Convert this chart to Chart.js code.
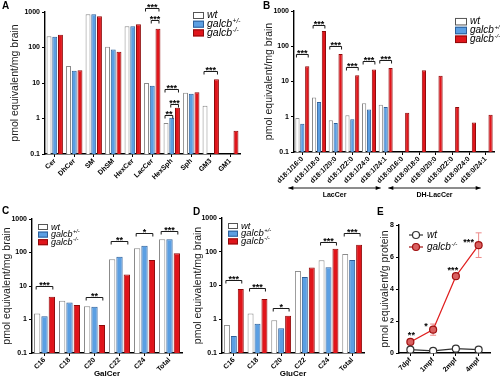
<!DOCTYPE html>
<html>
<head>
<meta charset="utf-8">
<script src="https://cdn.jsdelivr.net/npm/chart.js@4"></script>
<style>
  body { margin: 0; background: #fff; }
  #wrap { position: relative; width: 500px; height: 379px; overflow: hidden; }
  canvas { position: absolute; }
  .tag { position: absolute; font: bold 10px 'Liberation Sans', Arial, sans-serif; }
</style>
</head>
<body>
<div id="wrap">
  <canvas id="cA" width="245" height="190" style="left:0;top:0"></canvas>
  <canvas id="cB" width="255" height="200" style="left:245px;top:0"></canvas>
  <canvas id="cC" width="190" height="184" style="left:0;top:195px"></canvas>
  <canvas id="cD" width="180" height="184" style="left:190px;top:195px"></canvas>
  <canvas id="cE" width="130" height="184" style="left:370px;top:195px"></canvas>
  <div class="tag" style="left:2px;top:0">A</div>
  <div class="tag" style="left:263px;top:0">B</div>
  <div class="tag" style="left:2px;top:205px">C</div>
  <div class="tag" style="left:193px;top:206px">D</div>
  <div class="tag" style="left:377px;top:206px">E</div>
</div>
<script>
// panel A - sphingolipids
const aLabels = ['Cer', 'DhCer', 'SM', 'DhSM', 'HexCer', 'LacCer', 'HexSph', 'Sph', 'GM3', 'GM1'];
const aWt  = [209, 30, 860, 105, 400, 10, 0.75, 5.3, 2.3, null];
const aHet = [200, 22, 860, 88, 400, 8.3, 1.05, 5.0, null, null];
const aKo  = [230, 23, 760, 76, 450, 340, 2.0, 5.5, 12.7, 0.45];
const aSig = [[5, 0, 2, 1330, '***'], [5, 1, 2, 585, '***'], [6, 0, 2, 6.7, '***'],
              [6, 1, 2, 2.6, '***'], [6, 0, 1, 1.24, '**'], [8, 0, 2, 22, '***']];

// panel B - LacCer species
const bLabels = ['d18:1/16:0', 'd18:1/18:0', 'd18:1/20:0', 'd18:1/22:0', 'd18:1/24:0', 'd18:1/24:1',
                 'd18:0/16:0', 'd18:0/18:0', 'd18:0/20:0', 'd18:0/22:0', 'd18:0/24:0', 'd18:0/24:1'];
const bWt  = [0.92, 3.5, 0.8, 1.1, 2.4, 2.2, null, null, null, null, null, null];
const bHet = [0.63, 2.6, 0.67, 0.85, 1.6, 1.9, null, null, null, null, null, null];
const bKo  = [27, 270, 60, 15, 22, 24, 1.3, 21, 14.6, 1.9, 0.69, 1.14];
const bSig = [[0, 0, 2, 60, '***'], [1, 0, 2, 400, '***'], [2, 0, 2, 100, '***'],
              [3, 0, 2, 26, '***'], [4, 0, 2, 38, '***'], [5, 0, 2, 41, '***']];

// panel C - GalCer
const cLabels = ['C16', 'C18', 'C20', 'C22', 'C24', 'Total'];
const cWt  = [1.5, 3.6, 2.5, 63, 135, 250];
const cHet = [1.26, 3.2, 2.4, 75, 158, 250];
const cKo  = [4.8, 2.7, 0.68, 22, 60, 95];
const cSig = [[0, 0, 2, 10, '***'], [2, 0, 2, 4.8, '**'], [3, 0, 2, 213, '**'],
              [4, 0, 2, 380, '*'], [5, 0, 2, 450, '***']];

// panel D - GluCer
const dLabels = ['C16', 'C18', 'C20', 'C22', 'C24', 'Total'];
const dWt  = [0.68, 1.48, 0.93, 27, 56, 86];
const dHet = [0.32, 0.74, 0.54, 18, 35, 57];
const dKo  = [7.9, 4.0, 1.26, 34, 123, 160];
const dSig = [[0, 0, 2, 14.8, '***'], [1, 0, 2, 8.5, '***'], [2, 0, 2, 2.2, '*'],
              [4, 0, 2, 200, '***'], [5, 0, 2, 370, '***']];

// panel E - time course
const eLabels = ['7dpf', '1mpf', '2mpf', '4mpf'];
const eWt  = [0.21, 0.13, 0.27, 0.21];
const eKo  = [0.69, 1.46, 4.8, 6.74];
const eKoErr = [0.1, 0.35, 0.1, 0.77];
const eStars = ['**', '*', '***', '***'];

const FONT = "'Liberation Sans', Arial, sans-serif";
Chart.defaults.font.family = FONT;
Chart.defaults.color = '#000';

const WT = {fill: '#ffffff', stroke: '#8a8a8a'};
const HET = {fill: '#5b9fe3', stroke: '#2d5f99'};
const KO = {fill: '#e0151b', stroke: '#8f0a0a'};

const sigPlugin = {
  id: 'sig',
  afterDatasetsDraw(chart, args, o) {
    if (!o.items) return;
    const ctx = chart.ctx, ys = chart.scales.y;
    ctx.save();
    ctx.strokeStyle = '#000';
    ctx.lineWidth = 0.9;
    ctx.fillStyle = '#000';
    ctx.font = 'bold 9px ' + FONT;
    ctx.textAlign = 'center';
    ctx.textBaseline = 'alphabetic';
    o.items.forEach(([cat, a, b, v, txt]) => {
      const xa = chart.getDatasetMeta(a).data[cat].x - 1;
      const xb = chart.getDatasetMeta(b).data[cat].x + 1;
      const py = Math.round(ys.getPixelForValue(v)) + 0.5;
      ctx.beginPath();
      ctx.moveTo(xa, py + 3); ctx.lineTo(xa, py); ctx.lineTo(xb, py); ctx.lineTo(xb, py + 3);
      ctx.stroke();
      ctx.fillText(txt, (xa + xb) / 2, py + 1.5);
    });
    ctx.restore();
  }
};

const keyPlugin = {
  id: 'key',
  afterDraw(chart, args, o) {
    if (!o.items) return;
    const ctx = chart.ctx;
    ctx.save();
    o.items.forEach((it, i) => {
      const y = o.y + i * o.dy;
      let tx;
      if (o.marker === 'circle') {
        ctx.strokeStyle = it.stroke; ctx.lineWidth = 1.2;
        ctx.beginPath(); ctx.moveTo(o.x - 7, y); ctx.lineTo(o.x + 7, y); ctx.stroke();
        ctx.beginPath(); ctx.arc(o.x, y, 3.5, 0, Math.PI * 2);
        ctx.fillStyle = it.fill; ctx.fill(); ctx.stroke();
        tx = o.x + 11;
      } else {
        ctx.fillStyle = it.fill;
        ctx.fillRect(o.x, y - o.h / 2, o.w, o.h);
        ctx.strokeStyle = it.stroke; ctx.lineWidth = 1;
        ctx.strokeRect(o.x + 0.5, y - o.h / 2 + 0.5, o.w - 1, o.h - 1);
        tx = o.x + o.w + 3;
      }
      ctx.fillStyle = '#000';
      ctx.textAlign = 'left';
      ctx.textBaseline = 'middle';
      ctx.font = 'italic ' + o.size + 'px ' + FONT;
      ctx.fillText(it.label, tx, y);
      if (it.sup) {
        const w = ctx.measureText(it.label).width;
        ctx.font = 'italic ' + (o.size * 0.62).toFixed(1) + 'px ' + FONT;
        ctx.fillText(it.sup, tx + w + 0.5, y - o.size * 0.3);
      }
    });
    ctx.restore();
  }
};

// arrows under panel B x labels
const groupPlugin = {
  id: 'groups',
  afterDraw(chart, args, o) {
    if (!o.items) return;
    const ctx = chart.ctx, xs = chart.scales.x;
    ctx.save();
    ctx.strokeStyle = '#000'; ctx.fillStyle = '#000'; ctx.lineWidth = 0.9;
    o.items.forEach(([from, to, name]) => {
      const x1 = xs.getPixelForValue(from) - 14, x2 = xs.getPixelForValue(to) - 5;
      const y = o.y;
      ctx.beginPath(); ctx.moveTo(x1, y); ctx.lineTo(x2, y); ctx.stroke();
      ctx.beginPath(); ctx.moveTo(x1, y); ctx.lineTo(x1 + 5, y - 2); ctx.lineTo(x1 + 5, y + 2); ctx.fill();
      ctx.beginPath(); ctx.moveTo(x2, y); ctx.lineTo(x2 - 5, y - 2); ctx.lineTo(x2 - 5, y + 2); ctx.fill();
      ctx.font = 'bold 7px ' + FONT;
      ctx.textAlign = 'center'; ctx.textBaseline = 'middle';
      ctx.fillText(name, (x1 + x2) / 2, y + 7);
    });
    ctx.restore();
  }
};

const errPlugin = {
  id: 'errs',
  beforeDatasetsDraw(chart, args, o) {
    if (!o.err) return;
    const ctx = chart.ctx, ys = chart.scales.y;
    const meta = chart.getDatasetMeta(o.ds);
    const vals = chart.data.datasets[o.ds].data;
    ctx.save();
    ctx.strokeStyle = '#ec8a8a'; ctx.lineWidth = 1;
    o.err.forEach((e, i) => {
      const x = meta.data[i].x;
      const y1 = ys.getPixelForValue(vals[i] - e), y2 = ys.getPixelForValue(vals[i] + e);
      ctx.beginPath();
      ctx.moveTo(x, y1); ctx.lineTo(x, y2);
      ctx.moveTo(x - 3, y1); ctx.lineTo(x + 3, y1);
      ctx.moveTo(x - 3, y2); ctx.lineTo(x + 3, y2);
      ctx.stroke();
    });
    ctx.restore();
  }
};

const starPlugin = {
  id: 'stars',
  afterDatasetsDraw(chart, args, o) {
    if (!o.items) return;
    const ctx = chart.ctx;
    const meta = chart.getDatasetMeta(o.ds);
    ctx.save();
    ctx.fillStyle = '#000';
    ctx.font = 'bold 9px ' + FONT;
    ctx.textAlign = 'center'; ctx.textBaseline = 'alphabetic';
    o.items.forEach((txt, i) => {
      const p = meta.data[i];
      const off = o.offsets[i];
      ctx.fillText(txt, p.x + off[0], p.y + off[1]);
    });
    ctx.restore();
  }
};

Chart.register(sigPlugin, keyPlugin, groupPlugin, errPlugin, starPlugin);

function legendItems(withHet) {
  const items = [{label: 'wt', fill: WT.fill, stroke: '#555'}];
  if (withHet) items.push({label: 'galcb', sup: '+/-', fill: HET.fill, stroke: HET.stroke});
  items.push({label: 'galcb', sup: '-/-', fill: KO.fill, stroke: KO.stroke});
  return items;
}

function axisX(h, title) {
  return {
    type: 'category',
    ticks: {font: {size: 7, weight: 'bold'}, color: '#000', minRotation: 45, maxRotation: 45, autoSkip: false, padding: 0},
    grid: {display: true, drawOnChartArea: false, offset: false, tickLength: 3, color: '#000', lineWidth: 1},
    border: {color: '#000', width: 1.4},
    title: title ? {display: true, text: title, font: {size: 8, weight: 'bold'}, color: '#000', padding: 0} : {display: false},
    afterFit(s) { s.height = h; }
  };
}

function axisLogY(w, titlePad) {
  return {
    type: 'logarithmic', min: 0.1, max: 1000,
    afterBuildTicks(s) { s.ticks = [0.1, 1, 10, 100, 1000].map(v => ({value: v})); },
    ticks: {font: {size: 7, weight: 'bold'}, color: '#000', padding: 2, callback: v => String(v)},
    grid: {display: true, drawOnChartArea: false, tickLength: 3, color: '#000', lineWidth: 1},
    border: {color: '#000', width: 1.4},
    title: {display: true, text: 'pmol equivalent/mg brain', font: {size: 10.5}, color: '#222',
            padding: {top: titlePad, bottom: 0}},
    afterFit(s) { s.width = w; }
  };
}

function barSets(wt, het, ko) {
  const base = {borderWidth: 1, categoryPercentage: 0.88, barPercentage: 0.86};
  return [
    Object.assign({label: 'wt', data: wt, backgroundColor: WT.fill, borderColor: WT.stroke}, base),
    Object.assign({label: 'het', data: het, backgroundColor: HET.fill, borderColor: HET.stroke}, base),
    Object.assign({label: 'ko', data: ko, backgroundColor: KO.fill, borderColor: KO.stroke}, base)
  ];
}

function barChart(id, labels, wt, het, ko, cfg) {
  return new Chart(document.getElementById(id), {
    type: 'bar',
    data: {labels: labels, datasets: barSets(wt, het, ko)},
    options: {
      responsive: false, animation: false, devicePixelRatio: 1,
      layout: {padding: cfg.padding},
      scales: {x: axisX(cfg.xh, cfg.xtitle), y: axisLogY(cfg.yw, cfg.tpad)},
      plugins: {
        legend: {display: false}, tooltip: {enabled: false},
        sig: {items: cfg.sig},
        key: Object.assign({items: legendItems(true)}, cfg.key),
        groups: cfg.groups || {}
      }
    }
  });
}

barChart('cA', aLabels, aWt, aHet, aKo, {
  padding: {top: 12, right: 5, left: 0, bottom: 0}, xh: 36, yw: 45, tpad: 9, sig: aSig,
  key: {x: 193, y: 15.5, dy: 8.7, w: 11, h: 7, size: 10.5}
});

barChart('cB', bLabels, bWt, bHet, bKo, {
  padding: {top: 11, right: 6, left: 0, bottom: 0}, xh: 48, yw: 49, tpad: 18, sig: bSig,
  key: {x: 210, y: 21.7, dy: 8.8, w: 12, h: 7.5, size: 10},
  groups: {y: 188, items: [[0, 5, 'LacCer'], [6, 11, 'DH-LacCer']]}
});

barChart('cC', cLabels, cWt, cHet, cKo, {
  padding: {top: 24, right: 8, left: 0, bottom: 0}, xh: 26, yw: 32, tpad: 1, sig: cSig, xtitle: 'GalCer',
  key: {x: 38, y: 32, dy: 7.6, w: 10, h: 6, size: 9}
});

barChart('cD', dLabels, dWt, dHet, dKo, {
  padding: {top: 23, right: 6, left: 0, bottom: 0}, xh: 26, yw: 32, tpad: 2, sig: dSig, xtitle: 'GluCer',
  key: {x: 38, y: 31, dy: 7.7, w: 10, h: 6, size: 9.5}
});

new Chart(document.getElementById('cE'), {
  type: 'line',
  data: {
    labels: eLabels,
    datasets: [
      {label: 'wt', data: eWt, borderColor: '#333', borderWidth: 1.2, backgroundColor: '#fff',
       pointBackgroundColor: '#fff', pointBorderColor: '#333', pointRadius: 3.5, pointBorderWidth: 1.2},
      {label: 'ko', data: eKo, borderColor: '#e02020', borderWidth: 1.3, backgroundColor: '#d96060',
       pointBackgroundColor: '#d96060', pointBorderColor: '#a01010', pointRadius: 3.5, pointBorderWidth: 1.2}
    ]
  },
  options: {
    responsive: false, animation: false, devicePixelRatio: 1,
    layout: {padding: {top: 30, right: 10, left: 0, bottom: 0}},
    scales: {
      x: Object.assign(axisX(26), {offset: true}),
      y: {
        type: 'linear', min: 0, max: 8,
        ticks: {stepSize: 2, font: {size: 7, weight: 'bold'}, color: '#000', padding: 2},
        grid: {display: true, drawOnChartArea: false, tickLength: 3, color: '#000', lineWidth: 1},
        border: {color: '#000', width: 1.4},
        title: {display: true, text: 'pmol equivalent/g protein', font: {size: 10.5}, color: '#222',
                padding: {top: 9, bottom: 0}},
        afterFit(s) { s.width = 29; }
      }
    },
    plugins: {
      legend: {display: false}, tooltip: {enabled: false},
      key: {marker: 'circle', x: 46, y: 40, dy: 12, size: 10,
            items: [{label: 'wt', fill: '#fff', stroke: '#333'},
                    {label: 'galcb', sup: '-/-', fill: '#d96060', stroke: '#a01010'}]},
      errs: {ds: 1, err: eKoErr},
      stars: {ds: 1, items: eStars, offsets: [[1, -4], [-7, -1], [-3, -3], [-10, 0]]}
    }
  }
});
</script>
</body>
</html>
